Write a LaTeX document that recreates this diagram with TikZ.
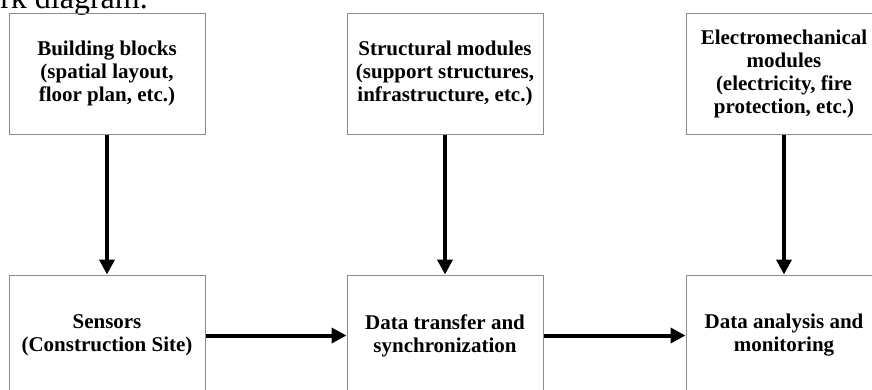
\documentclass[tikz,border=0pt]{standalone}
\usepackage{fontspec}
\setmainfont{Liberation Serif}
\usetikzlibrary{arrows.meta}
\definecolor{boxgray}{HTML}{8C8C8C}
\begin{document}
\begin{tikzpicture}[x=1pt,y=-1pt,
  box/.style={draw=boxgray, line width=1pt, minimum width=196pt, minimum height=121pt,
    inner sep=0pt, align=center, font=\fontsize{21}{23}\selectfont\bfseries},
  arr/.style={line width=4pt, -{Triangle[length=15pt,width=15pt]}}]
\useasboundingbox (0,0) rectangle (872,389);
\clip (0,0) rectangle (872,389);
\node[anchor=base east, inner sep=0pt, font=\fontsize{32}{36}\selectfont] (title) at (148,8) {rk diagram.};
\node[box] (bb) at (107,73.5) {Building blocks\\(spatial layout,\\floor plan, etc.)};
\node[box] (sm) at (445,73.5) {Structural modules\\(support structures,\\infrastructure, etc.)};
\node[box] (em) at (784,73.5) {Electromechanical\\modules\\(electricity, fire\\protection, etc.)};
\node[box] (se) at (107,335.5) {Sensors\\(Construction Site)};
\node[box] (dt) at (445,335.5) {Data transfer and\\synchronization};
\node[box] (da) at (784,335.5) {Data analysis and\\monitoring};
\draw[arr] (bb) -- (se);
\draw[arr] (sm) -- (dt);
\draw[arr] (em) -- (da);
\draw[arr] (se) -- (dt);
\draw[arr] (dt) -- (da);
\end{tikzpicture}
\end{document}
